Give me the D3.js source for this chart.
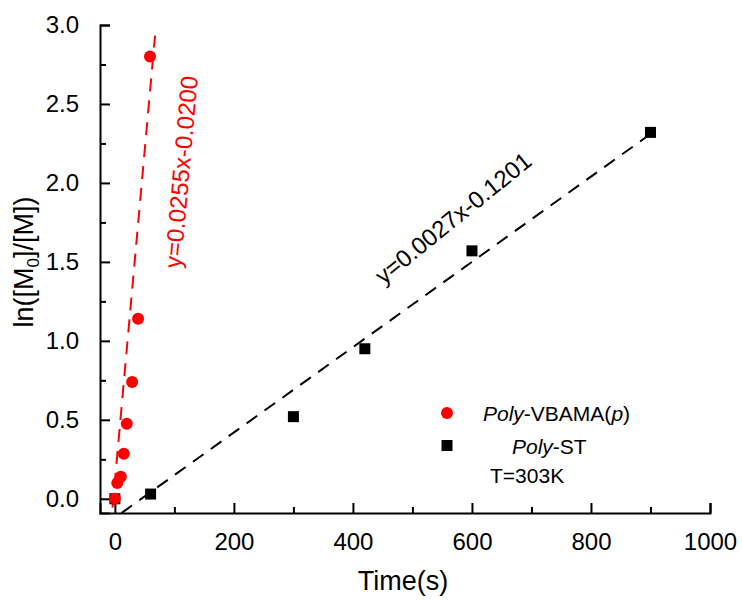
<!DOCTYPE html>
<html>
<head>
<meta charset="utf-8">
<script src="https://cdn.jsdelivr.net/npm/d3@7"></script>
<style>
  body { margin: 0; background: #fff; }
  text { font-family: "Liberation Sans", Arial, sans-serif; }
</style>
</head>
<body>
<svg id="chart" width="742" height="600"></svg>
<script>
// Poly-VBAMA(p) points (time s, ln([M0]/[M]))
const vbamaTime = [0, 4, 10, 15, 20, 29, 39, 59];
const vbamaLn   = [0, 0.10, 0.14, 0.285, 0.475, 0.74, 1.14, 2.80];

// Poly-ST points
const stTime = [0, 60, 300, 420, 600, 900];
const stLn   = [0, 0.03, 0.52, 0.95, 1.57, 2.32];

// fitted lines, as drawn (slope, intercept, x range)
const vbamaFit = { slope: 0.0418, icpt: 0.111, x0: -4, x1: 67.5 };
const stFit    = { slope: 0.0027, icpt: -0.1201, x0: 11, x1: 900 };

const xTicks = [0, 200, 400, 600, 800, 1000];
const xMinor = [100, 300, 500, 700, 900];
const yTicks = [0, 0.5, 1.0, 1.5, 2.0, 2.5, 3.0];
const yMinor = [0.25, 0.75, 1.25, 1.75, 2.25, 2.75];

const svg = d3.select("#chart");
svg.append("rect").attr("width", 742).attr("height", 600).attr("fill", "#fff");

const x = d3.scaleLinear().domain([-25, 1000]).range([100, 710]);
const y = d3.scaleLinear().domain([-0.09, 3.0]).range([513, 25]);

// fit lines
function fitLine(f, color) {
  svg.append("line")
    .attr("x1", x(f.x0)).attr("y1", y(f.slope * f.x0 + f.icpt))
    .attr("x2", x(f.x1)).attr("y2", y(f.slope * f.x1 + f.icpt))
    .attr("stroke", color).attr("stroke-width", 2)
    .attr("stroke-dasharray", "13,9");
}
fitLine(vbamaFit, "#ff0000");
fitLine(stFit, "#000");

// axes: only left and bottom, ticks inside
const xAxis = d3.axisBottom(x).tickValues(xTicks).tickSize(-10).tickPadding(20).tickFormat(d3.format("d"));
const xAxisMinor = d3.axisBottom(x).tickValues(xMinor).tickSize(-6).tickFormat("");
const yAxis = d3.axisLeft(y).tickValues(yTicks).tickSize(-10).tickPadding(21).tickFormat(d3.format(".1f"));
const yAxisMinor = d3.axisLeft(y).tickValues(yMinor).tickSize(-6).tickFormat("");

function styleAxis(g) {
  g.selectAll("path").attr("stroke-width", 2);
  g.selectAll("line").attr("stroke-width", 2);
  g.selectAll("text").attr("font-size", 24).attr("fill", "#000")
    .attr("font-family", "Liberation Sans, Arial, sans-serif");
}

svg.append("g").attr("transform", "translate(0,513)").call(xAxis).call(styleAxis);
svg.append("g").attr("transform", "translate(0,513)").call(xAxisMinor).call(styleAxis)
  .select(".domain").remove();
svg.append("g").attr("transform", "translate(100,0)").call(yAxis).call(styleAxis);
svg.append("g").attr("transform", "translate(100,0)").call(yAxisMinor).call(styleAxis)
  .select(".domain").remove();

// points
svg.append("g").selectAll("rect")
  .data(stTime.map((t, i) => [t, stLn[i]]))
  .join("rect")
    .attr("x", d => x(d[0]) - 5.5).attr("y", d => y(d[1]) - 5.5)
    .attr("width", 11).attr("height", 11).attr("fill", "#000");

svg.append("g").selectAll("circle")
  .data(vbamaTime.map((t, i) => [t, vbamaLn[i]]))
  .join("circle")
    .attr("cx", d => x(d[0])).attr("cy", d => y(d[1]))
    .attr("r", 6).attr("fill", "#ff0000");

// axis titles
svg.append("text").attr("x", 403).attr("y", 590).attr("text-anchor", "middle")
  .attr("font-size", 27).text("Time(s)");

const yt = svg.append("text").attr("transform", "translate(33,262) rotate(-90)")
  .attr("text-anchor", "middle").attr("font-size", 27);
yt.append("tspan").text("ln([M");
yt.append("tspan").attr("font-size", 17).attr("dy", 6).text("0");
yt.append("tspan").attr("dy", -6).text("]/[M])");

// fit equations
svg.append("text").attr("transform", "translate(181,172) rotate(-85)")
  .attr("text-anchor", "middle").attr("dominant-baseline", "central")
  .attr("font-size", 24).attr("fill", "#ff0000").text("y=0.0255x-0.0200");

svg.append("text").attr("transform", "translate(453,218) rotate(-39)")
  .attr("text-anchor", "middle").attr("dominant-baseline", "central")
  .attr("font-size", 24).attr("fill", "#000").text("y=0.0027x-0.1201");

// legend
svg.append("circle").attr("cx", 447).attr("cy", 413).attr("r", 6).attr("fill", "#ff0000");
svg.append("rect").attr("x", 441.5).attr("y", 440).attr("width", 11).attr("height", 11).attr("fill", "#000");

const l1 = svg.append("text").attr("x", 483).attr("y", 421).attr("font-size", 21);
l1.append("tspan").attr("font-style", "italic").text("Poly");
l1.append("tspan").text("-VBAMA(");
l1.append("tspan").attr("font-style", "italic").text("p");
l1.append("tspan").text(")");

const l2 = svg.append("text").attr("x", 512).attr("y", 454).attr("font-size", 21);
l2.append("tspan").attr("font-style", "italic").text("Poly");
l2.append("tspan").text("-ST");

svg.append("text").attr("x", 490).attr("y", 483).attr("font-size", 21).text("T=303K");
</script>
</body>
</html>
